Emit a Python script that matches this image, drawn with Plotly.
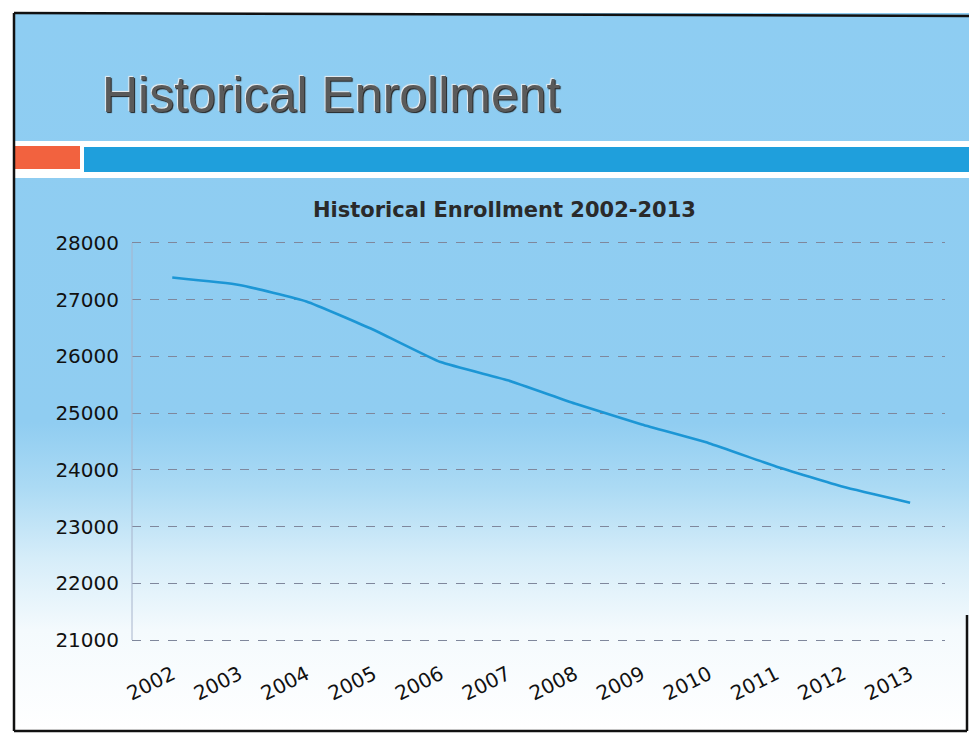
import plotly.graph_objects as go
from urllib.parse import quote

years = ["2002", "2003", "2004", "2005", "2006", "2007", "2008", "2009", "2010", "2011", "2012", "2013"]
enrollment = [27390, 27260, 26970, 26470, 25900, 25580, 25170, 24800, 24470, 24060, 23700, 23420]
y_ticks = [21000, 22000, 23000, 24000, 25000, 26000, 27000, 28000]

W, H = 969, 736
L, R, T, B = 132, 945, 241, 642   # plot area in pixels


def px(x):
    return (x - L) / (R - L)


def py(y):
    return (B - y) / (B - T)


fig = go.Figure()
fig.add_trace(go.Scatter(
    x=years, y=enrollment, mode="lines",
    line=dict(color="#1c96d5", width=2.6, shape="spline", smoothing=0.4),
    hoverinfo="x+y", showlegend=False,
))

# slide background gradient
svg = ('<svg xmlns="http://www.w3.org/2000/svg" width="952" height="718" preserveAspectRatio="none">'
       '<defs><linearGradient id="g" x1="0" y1="0" x2="0" y2="1">'
       '<stop offset="0" stop-color="#8ecdf2"/>'
       '<stop offset="0.57" stop-color="#90cdf1"/>'
       '<stop offset="0.66" stop-color="#abdaf4"/>'
       '<stop offset="0.76" stop-color="#d6edf9"/>'
       '<stop offset="0.86" stop-color="#f4fafd"/>'
       '<stop offset="1" stop-color="#ffffff"/>'
       '</linearGradient></defs>'
       '<rect width="952" height="718" fill="url(#g)"/></svg>')
src = "data:image/svg+xml;charset=utf-8," + quote(svg)

fig.add_layout_image(dict(
    source=src, xref="paper", yref="paper",
    x=px(14), y=py(13), sizex=(969 - 14) / (R - L), sizey=(731 - 13) / (B - T),
    xanchor="left", yanchor="top", sizing="stretch", layer="below",
))

shapes = []
# white stripes
shapes.append(dict(type="rect", xref="paper", yref="paper", x0=px(14), x1=px(969),
                   y0=py(141), y1=py(178), fillcolor="#ffffff", line=dict(width=0), layer="below"))
# blue band
shapes.append(dict(type="rect", xref="paper", yref="paper", x0=px(84), x1=px(969),
                   y0=py(147), y1=py(172), fillcolor="#1f9fdc", line=dict(width=0), layer="below"))
# red block
shapes.append(dict(type="rect", xref="paper", yref="paper", x0=px(14), x1=px(80),
                   y0=py(146), y1=py(169), fillcolor="#f2623f", line=dict(width=0), layer="below"))
# slide border (left, top, bottom and lower right)
border = dict(color="#111111", width=2.5)
shapes.append(dict(type="line", xref="paper", yref="paper", x0=px(14), x1=px(14), y0=py(13), y1=py(731),
                   line=border, layer="above"))
shapes.append(dict(type="line", xref="paper", yref="paper", x0=px(14), x1=px(969), y0=py(13), y1=py(16),
                   line=border, layer="above"))
shapes.append(dict(type="line", xref="paper", yref="paper", x0=px(14), x1=px(967), y0=py(731), y1=py(731),
                   line=border, layer="above"))
shapes.append(dict(type="line", xref="paper", yref="paper", x0=px(967), x1=px(967), y0=py(615), y1=py(731),
                   line=border, layer="above"))
fig.update_layout(shapes=shapes)

fig.add_annotation(
    text="Historical Enrollment", xref="paper", yref="paper",
    x=px(100), y=py(95), xanchor="left", yanchor="middle", showarrow=False,
    font=dict(family="Liberation Sans Narrow, Liberation Sans, sans-serif", size=50, color="#5a5a5a",
              shadow="1px 1px 1px #222, -1px -1px 1px #eeeeee"),
)
fig.add_annotation(
    text="<b>Historical Enrollment 2002-2013</b>", xref="paper", yref="paper",
    x=px(504), y=py(210), xanchor="center", yanchor="middle", showarrow=False,
    font=dict(family="DejaVu Sans, sans-serif", size=21, color="#2a2a2a"),
)

fig.update_xaxes(
    type="category", range=[-0.6, 11.52],
    tickangle=-27, tickfont=dict(family="DejaVu Sans, sans-serif", size=20, color="#111111"),
    showgrid=False, showline=False, ticks="", zeroline=False,
    ticklabelstandoff=16,
)
fig.update_yaxes(
    range=[20965, 28035], tickvals=y_ticks, ticktext=[str(v) for v in y_ticks],
    tickfont=dict(family="DejaVu Sans, sans-serif", size=20, color="#111111"),
    showgrid=True, gridcolor="#7f879c", griddash="dash", gridwidth=1,
    showline=False, ticks="", zeroline=False,
    ticklabelstandoff=12,
)
# left axis line
fig.add_shape(type="line", xref="paper", yref="y", x0=0, x1=0, y0=21000, y1=28000,
              line=dict(color="#a8b4cc", width=1))

fig.update_layout(
    width=W, height=H,
    margin=dict(l=L, r=W - R, t=T, b=H - B),
    paper_bgcolor="#ffffff", plot_bgcolor="rgba(0,0,0,0)",
)

fig.write_html("out.html", config={"displayModeBar": False},
               post_script="document.body.style.margin='0';")
